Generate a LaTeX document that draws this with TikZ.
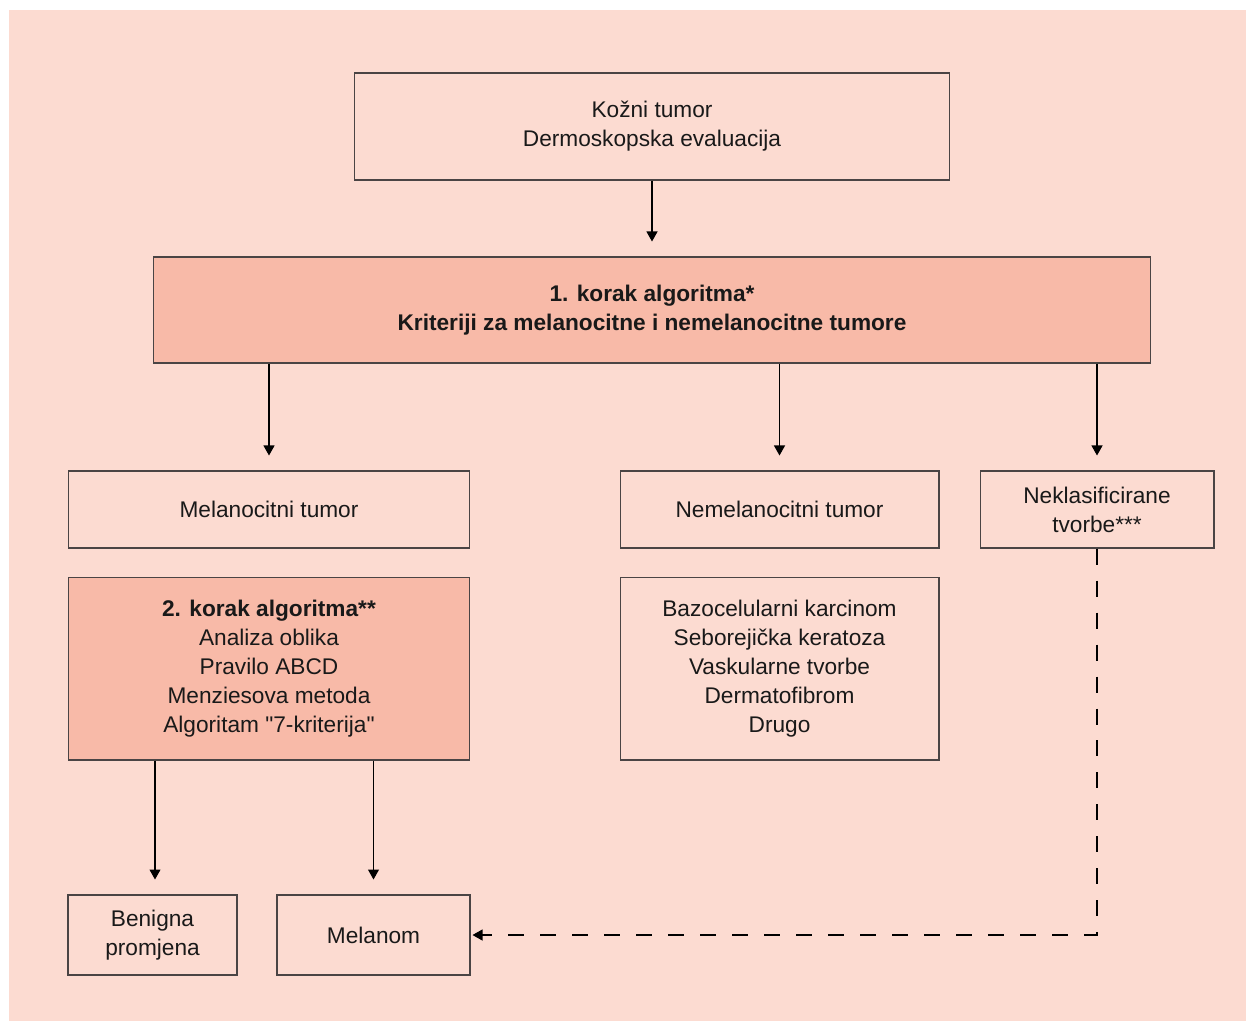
\documentclass[tikz,border=0pt]{standalone}
\usepackage{fontspec}
\setmainfont{Liberation Sans}
\usetikzlibrary{arrows.meta}

\definecolor{bgpink}{HTML}{FCDBD1}
\definecolor{boxdark}{HTML}{F8BAA8}
\definecolor{edgegray}{HTML}{4A4444}

\tikzset{
  box/.style={draw=edgegray, line width=0.6pt, inner sep=0pt, align=center,
    font=\fontsize{12.9}{16.6}\selectfont, text=black!90},
  darkbox/.style={box, fill=boxdark},
  arr/.style={line width=0.6pt, -{Triangle[length=0.2cm,width=0.22cm]}, shorten >=0.3cm},
}

\begin{document}
\begin{tikzpicture}[x=0.02cm, y=-0.02cm]
    % Background
    \useasboundingbox (0,0) rectangle (1246,1021);
    \fill [bgpink] (9,10) rectangle (1246,1021);

    % Top box
    \node [box, minimum width=11.92cm, minimum height=2.14cm] (tumor) at (652,126.5)
        {Kožni tumor\\Dermoskopska evaluacija};

    % Step 1
    \node [darkbox, minimum width=19.96cm, minimum height=2.12cm] (korak1) at (652,310)
        {\textbf{1. korak algoritma*}\\\textbf{Kriteriji za melanocitne i nemelanocitne tumore}};

    % Three classes
    \node [box, minimum width=8.04cm, minimum height=1.54cm] (melan) at (269,509.5)
        {Melanocitni tumor};
    \node [box, minimum width=6.38cm, minimum height=1.54cm] (nemelan) at (779.5,509.5)
        {Nemelanocitni tumor};
    \node [box, minimum width=4.68cm, minimum height=1.54cm] (neklas) at (1097,509.5)
        {Neklasificirane\\tvorbe***};

    % Step 2 and the list
    \node [darkbox, minimum width=8.04cm, minimum height=3.66cm] (korak2) at (269,668.5)
        {\textbf{2. korak algoritma**}\\Analiza oblika\\Pravilo ABCD\\Menziesova metoda\\
         Algoritam {\addfontfeatures{Ligatures=TeXOff}"7-kriterija"}};
    \node [box, minimum width=6.38cm, minimum height=3.66cm] (popis) at (779.5,668.5)
        {Bazocelularni karcinom\\Seborejička keratoza\\Vaskularne tvorbe\\Dermatofibrom\\Drugo};

    % Outcomes
    \node [box, minimum width=3.38cm, minimum height=1.6cm] (benigna) at (152.5,935)
        {Benigna\\promjena};
    \node [box, minimum width=3.86cm, minimum height=1.6cm] (melanom) at (373.5,935)
        {Melanom};

    % Arrows
    \draw [arr] (tumor) -- (korak1);
    \draw [arr] (korak1.south -| melan.north) -- (melan.north);
    \draw [arr] (korak1.south -| nemelan.north) -- (nemelan.north);
    \draw [arr] (korak1.south -| neklas.north) -- (neklas.north);
    \draw [arr] ([xshift=0.05cm]korak2.south -| benigna.north) -- ([xshift=0.05cm]benigna.north);
    \draw [arr] (korak2.south -| melanom.north) -- (melanom.north);

    % Dashed path to melanoma
    \draw [arr, shorten >=0.04cm, dash pattern=on 0.32cm off 0.32cm]
        (neklas.south) |- (melanom.east);

\end{tikzpicture}
\end{document}
